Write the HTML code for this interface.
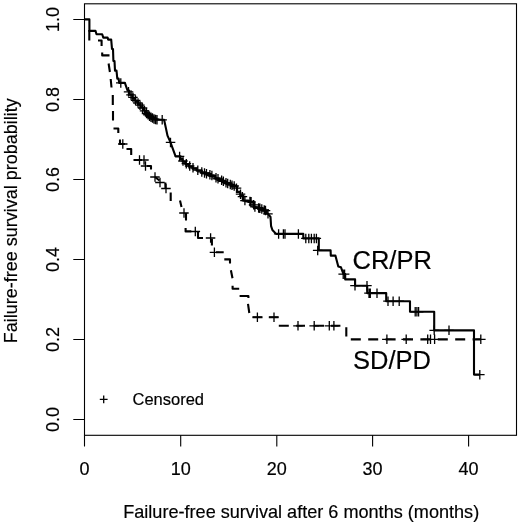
<!DOCTYPE html>
<html><head><meta charset="utf-8"><title>Kaplan-Meier</title>
<style>
html,body{margin:0;padding:0;background:#fff;}
body{width:520px;height:524px;overflow:hidden;}
svg{display:block;will-change:transform;opacity:0.999;}
text{font-family:"Liberation Sans",sans-serif;fill:#000;stroke:#000;stroke-width:0.18px;}
</style></head><body>
<svg width="520" height="524" viewBox="0 0 520 524">
<rect x="0" y="0" width="520" height="524" fill="#ffffff"/>
<rect x="84.5" y="3.8" width="432" height="431.5" fill="none" stroke="#000" stroke-width="1.1"/>
<path d="M84.5,435.3v11.2M180.7,435.3v11.2M276.8,435.3v11.2M372.6,435.3v11.2M468.6,435.3v11.2M84.5,419.5h-11.2M84.5,339.5h-11.2M84.5,259.5h-11.2M84.5,179.5h-11.2M84.5,99.5h-11.2M84.5,19.5h-11.2" stroke="#000" stroke-width="1.1" fill="none"/>
<text x="84.5" y="475" font-size="18" text-anchor="middle">0</text>
<text x="180.7" y="475" font-size="18" text-anchor="middle">10</text>
<text x="276.8" y="475" font-size="18" text-anchor="middle">20</text>
<text x="372.6" y="475" font-size="18" text-anchor="middle">30</text>
<text x="468.6" y="475" font-size="18" text-anchor="middle">40</text>
<text transform="translate(59.2,419.5) rotate(-90)" font-size="18" text-anchor="middle">0.0</text>
<text transform="translate(59.2,339.5) rotate(-90)" font-size="18" text-anchor="middle">0.2</text>
<text transform="translate(59.2,259.5) rotate(-90)" font-size="18" text-anchor="middle">0.4</text>
<text transform="translate(59.2,179.5) rotate(-90)" font-size="18" text-anchor="middle">0.6</text>
<text transform="translate(59.2,99.5) rotate(-90)" font-size="18" text-anchor="middle">0.8</text>
<text transform="translate(59.2,19.5) rotate(-90)" font-size="18" text-anchor="middle">1.0</text>
<text x="301.2" y="517.8" font-size="18.1" text-anchor="middle">Failure-free survival after 6 months (months)</text>
<text transform="translate(17,220.8) rotate(-90)" font-size="18" text-anchor="middle">Failure-free survival probability</text>
<path d="M89.3,30.0 L89.3,40.5M98.0,40.5 L101.6,40.5 L101.6,46.0M102.2,52.5 L102.2,55.4 L109.5,55.4M108.6,63.5 L109.9,72.0M110.7,79.0 L111.5,87.5M112.8,95.0 L112.8,105.0M113.0,111.0 L113.0,120.5M113.5,128.5 L118.3,128.5 L118.3,133.0M120.0,139.5 L120.0,144.0 L125.0,144.0M126.5,149.0 L131.2,149.0 L131.2,155.0M133.5,160.0 L142.0,160.0M147.0,166.0 L151.0,166.0 L151.0,169.5M155.0,177.0 L159.5,180.5M165.3,182.5 L165.5,189.0M170.7,192.5 L170.7,201.0M180.0,200.5 L181.5,207.0M186.0,213.0 L186.0,220.6M185.6,228.0 L185.6,231.4 L191.3,231.4M198.0,231.5 L198.0,238.0 L203.0,238.0M211.9,238.7 L211.9,245.6M216.0,252.3 L223.7,252.3M224.3,259.4 L230.0,259.4 L230.0,263.5M230.9,270.2 L232.5,278.3M232.6,285.7 L232.6,288.7 L239.2,288.7M239.6,296.0 L248.4,296.0 L248.4,298.0M248.0,303.8 L249.3,313.0M252.5,317.2 L262.5,317.2M268.8,317.2 L278.5,317.2M278.8,325.8 L288.8,325.8M296.2,325.8 L305.0,325.8M313.6,325.8 L324.0,325.8M331.0,325.8 L340.4,325.8M346.3,327.3 L346.3,336.5M350.8,339.4 L360.8,339.4M368.2,339.4 L378.2,339.4M385.6,339.4 L395.6,339.4M403.0,339.4 L413.0,339.4M420.4,339.4 L430.4,339.4M437.8,339.4 L447.8,339.4M455.2,339.4 L465.2,339.4M472.6,339.4 L481.0,339.4" stroke="#000" stroke-width="2.1" fill="none" stroke-linejoin="round"/>
<path d="M84.5,19.4 L89.4,19.4 L89.4,30.9 L95.5,30.9 L96.5,34.2 L102.2,34.2 L103.3,37.6 L107.6,37.6 L108.2,39.6 L111.2,39.6 L112.0,49.0 L113.0,49.0 L113.4,61.0 L114.5,61.0 L115.0,70.6 L116.5,70.6 L117.3,78.6 L118.6,78.6 L119.2,82.9 L124.9,82.9 L127.5,90.5 L129.1,90.5 L129.1,94.6 L130.8,94.6 L132.4,94.6 L132.4,98.7 L134.0,98.7 L135.3,98.7 L135.3,101.6 L136.7,101.6 L138.0,101.6 L138.0,104.4 L139.3,104.4 L140.7,104.4 L140.7,107.3 L142.0,107.3 L143.0,107.3 L143.0,110.2 L144.0,110.2 L145.0,110.2 L145.0,113.0 L146.0,113.0 L148.0,113.0 L148.0,116.6 L150.0,116.6 L152.0,116.6 L152.0,119.0 L154.0,119.0 L157.0,119.8 L164.1,119.8 L167.5,135.6 L170.2,141.6 L175.6,156.4 L179.6,156.4 L180.6,156.4 L180.6,159.1 L181.6,159.1 L182.6,159.1 L182.6,161.8 L183.6,161.8 L185.3,161.8 L185.3,164.2 L187.0,164.2 L188.7,164.2 L188.7,166.5 L190.4,166.5 L192.4,166.5 L192.4,168.6 L194.4,168.6 L196.5,168.6 L196.5,170.6 L198.5,170.6 L201.8,170.6 L201.8,173.3 L205.2,173.3 L209.2,173.3 L209.2,176.0 L213.3,176.0 L215.3,176.0 L215.3,178.6 L217.3,178.6 L220.0,179.5 L221.9,179.5 L221.9,181.4 L223.8,181.4 L225.6,181.4 L225.6,183.4 L227.5,183.4 L231.5,183.4 L231.5,186.5 L235.5,186.5 L237.1,186.5 L237.1,191.9 L238.6,191.9 L240.2,191.9 L240.2,195.6 L241.8,195.6 L243.3,195.6 L243.3,200.6 L244.9,200.6 L248.3,200.6 L248.3,201.9 L251.8,201.9 L253.3,201.9 L253.3,206.9 L254.9,206.9 L259.2,208.1 L262.4,208.1 L262.4,210.6 L265.5,210.6 L266.8,210.6 L266.8,213.8 L268.0,213.8 L270.5,216.9 L271.1,226.2 L272.4,230.0 L276.1,233.9 L303.3,233.9 L303.3,238.4 L318.8,238.4 L318.8,250.4 L330.6,250.4 L330.8,255.6 L335.4,255.6 L336.9,261.2 L338.3,266.5 L341.0,267.3 L342.3,271.0 L343.6,274.1 L345.2,274.1 L345.2,279.4 L355.1,279.4 L355.1,285.7 L367.2,285.7 L367.2,293.1 L386.2,293.1 L386.2,301.2 L410.0,301.2 L410.0,311.8 L434.2,311.8 L434.2,330.4 L474.0,330.4 L474.0,374.6 L479.8,374.6" stroke="#000" stroke-width="2.1" fill="none" stroke-linejoin="round"/>
<path d="M116.0,82.9h9.5M120.8,78.2v9.5M123.8,91.8h9.5M128.5,87.0v9.5M126.2,94.9h9.5M131.0,90.2v9.5M128.2,97.4h9.5M133.0,92.7v9.5M130.8,100.3h9.5M135.5,95.6v9.5M133.2,103.0h9.5M138.0,98.2v9.5M135.2,105.2h9.5M140.0,100.4v9.5M137.8,108.0h9.5M142.5,103.3v9.5M139.8,110.9h9.5M144.5,106.1v9.5M141.8,113.5h9.5M146.5,108.7v9.5M143.2,114.8h9.5M148.0,110.0v9.5M144.8,116.1h9.5M149.5,111.4v9.5M146.2,117.2h9.5M151.0,112.4v9.5M147.8,118.1h9.5M152.5,113.3v9.5M149.2,119.0h9.5M154.0,114.2v9.5M150.8,119.4h9.5M155.5,114.7v9.5M152.2,119.8h9.5M157.0,115.0v9.5M157.4,119.8h9.5M162.2,115.0v9.5M165.8,142.4h9.5M170.5,137.7v9.5M174.8,156.4h9.5M179.6,151.7v9.5M178.2,161.0h9.5M183.0,156.2v9.5M181.6,163.7h9.5M186.3,158.9v9.5M184.9,166.0h9.5M189.7,161.3v9.5M188.2,167.8h9.5M193.0,163.1v9.5M193.1,170.2h9.5M197.8,165.5v9.5M197.1,171.9h9.5M201.8,167.2v9.5M199.8,173.0h9.5M204.5,168.3v9.5M201.8,173.7h9.5M206.5,169.0v9.5M205.2,174.9h9.5M209.9,170.1v9.5M207.2,175.5h9.5M211.9,170.8v9.5M211.2,177.8h9.5M216.0,173.0v9.5M213.2,178.8h9.5M218.0,174.1v9.5M216.8,180.3h9.5M221.6,175.6v9.5M218.7,181.3h9.5M223.4,176.5v9.5M221.2,182.6h9.5M226.0,177.9v9.5M222.9,183.5h9.5M227.7,178.7v9.5M225.6,184.5h9.5M230.3,179.7v9.5M227.2,185.1h9.5M232.0,180.4v9.5M229.4,186.0h9.5M234.2,181.2v9.5M231.8,188.2h9.5M236.5,183.5v9.5M235.8,194.1h9.5M240.5,189.4v9.5M237.7,196.6h9.5M242.4,191.9v9.5M240.2,200.6h9.5M244.9,195.8v9.5M245.2,201.5h9.5M249.9,196.8v9.5M246.3,201.8h9.5M251.1,197.0v9.5M248.8,204.8h9.5M253.6,200.1v9.5M250.2,206.9h9.5M254.9,202.2v9.5M253.9,207.9h9.5M258.6,203.2v9.5M255.1,208.4h9.5M259.9,203.6v9.5M257.0,209.1h9.5M261.8,204.3v9.5M259.5,210.1h9.5M264.2,205.3v9.5M260.8,210.6h9.5M265.5,205.8v9.5M263.2,213.8h9.5M268.0,209.0v9.5M273.9,233.9h9.5M278.6,229.2v9.5M278.6,233.9h9.5M283.4,229.2v9.5M280.2,233.9h9.5M285.0,229.2v9.5M293.6,233.9h9.5M298.4,229.2v9.5M301.1,238.4h9.5M305.8,233.7v9.5M304.1,238.4h9.5M308.8,233.7v9.5M306.6,238.4h9.5M311.4,233.7v9.5M309.4,238.4h9.5M314.2,233.7v9.5M311.6,238.4h9.5M316.4,233.7v9.5M312.9,250.4h9.5M317.7,245.7v9.5M338.4,274.1h9.5M343.2,269.4v9.5M339.9,274.1h9.5M344.6,269.4v9.5M350.2,285.7h9.5M355.0,280.9v9.5M362.2,285.7h9.5M367.0,280.9v9.5M364.2,293.1h9.5M369.0,288.4v9.5M365.6,293.1h9.5M370.3,288.4v9.5M372.2,293.1h9.5M377.0,288.4v9.5M383.2,301.2h9.5M388.0,296.4v9.5M388.4,301.2h9.5M393.1,296.4v9.5M394.4,301.2h9.5M399.2,296.4v9.5M410.4,311.8h9.5M415.2,307.1v9.5M412.1,311.8h9.5M416.9,307.1v9.5M413.9,311.8h9.5M418.6,307.1v9.5M429.4,330.4h9.5M434.2,325.6v9.5M444.2,330.4h9.5M449.0,325.6v9.5M475.1,374.6h9.5M479.8,369.9v9.5M118.0,144.0h9.5M122.8,139.2v9.5M134.8,160.0h9.5M139.5,155.2v9.5M139.2,160.0h9.5M144.0,155.2v9.5M140.8,166.0h9.5M145.5,161.2v9.5M150.2,177.0h9.5M155.0,172.2v9.5M155.2,182.5h9.5M160.0,177.8v9.5M161.2,188.5h9.5M166.0,183.8v9.5M179.2,213.0h9.5M184.0,208.2v9.5M190.6,231.5h9.5M195.3,226.8v9.5M205.8,238.0h9.5M210.6,233.2v9.5M209.7,252.3h9.5M214.4,247.6v9.5M252.6,317.2h9.5M257.4,312.4v9.5M269.2,317.2h9.5M274.0,312.4v9.5M293.2,325.8h9.5M298.0,321.1v9.5M309.4,325.8h9.5M314.2,321.1v9.5M324.6,325.8h9.5M329.3,321.1v9.5M329.1,325.8h9.5M333.9,321.1v9.5M382.1,339.4h9.5M386.9,334.6v9.5M401.4,339.4h9.5M406.2,334.6v9.5M422.9,339.4h9.5M427.7,334.6v9.5M425.8,339.4h9.5M430.5,334.6v9.5M429.9,339.4h9.5M434.6,334.6v9.5M476.1,339.4h9.5M480.8,334.6v9.5M99.8,399.4h7.8M103.7,395.5v7.8" stroke="#000" stroke-width="1.3" fill="none"/>
<text x="132.5" y="405.4" font-size="16.5">Censored</text>
<text x="352.5" y="268.5" font-size="25.5">CR/PR</text>
<text x="353.0" y="368.5" font-size="25.5">SD/PD</text>
</svg></body></html>
